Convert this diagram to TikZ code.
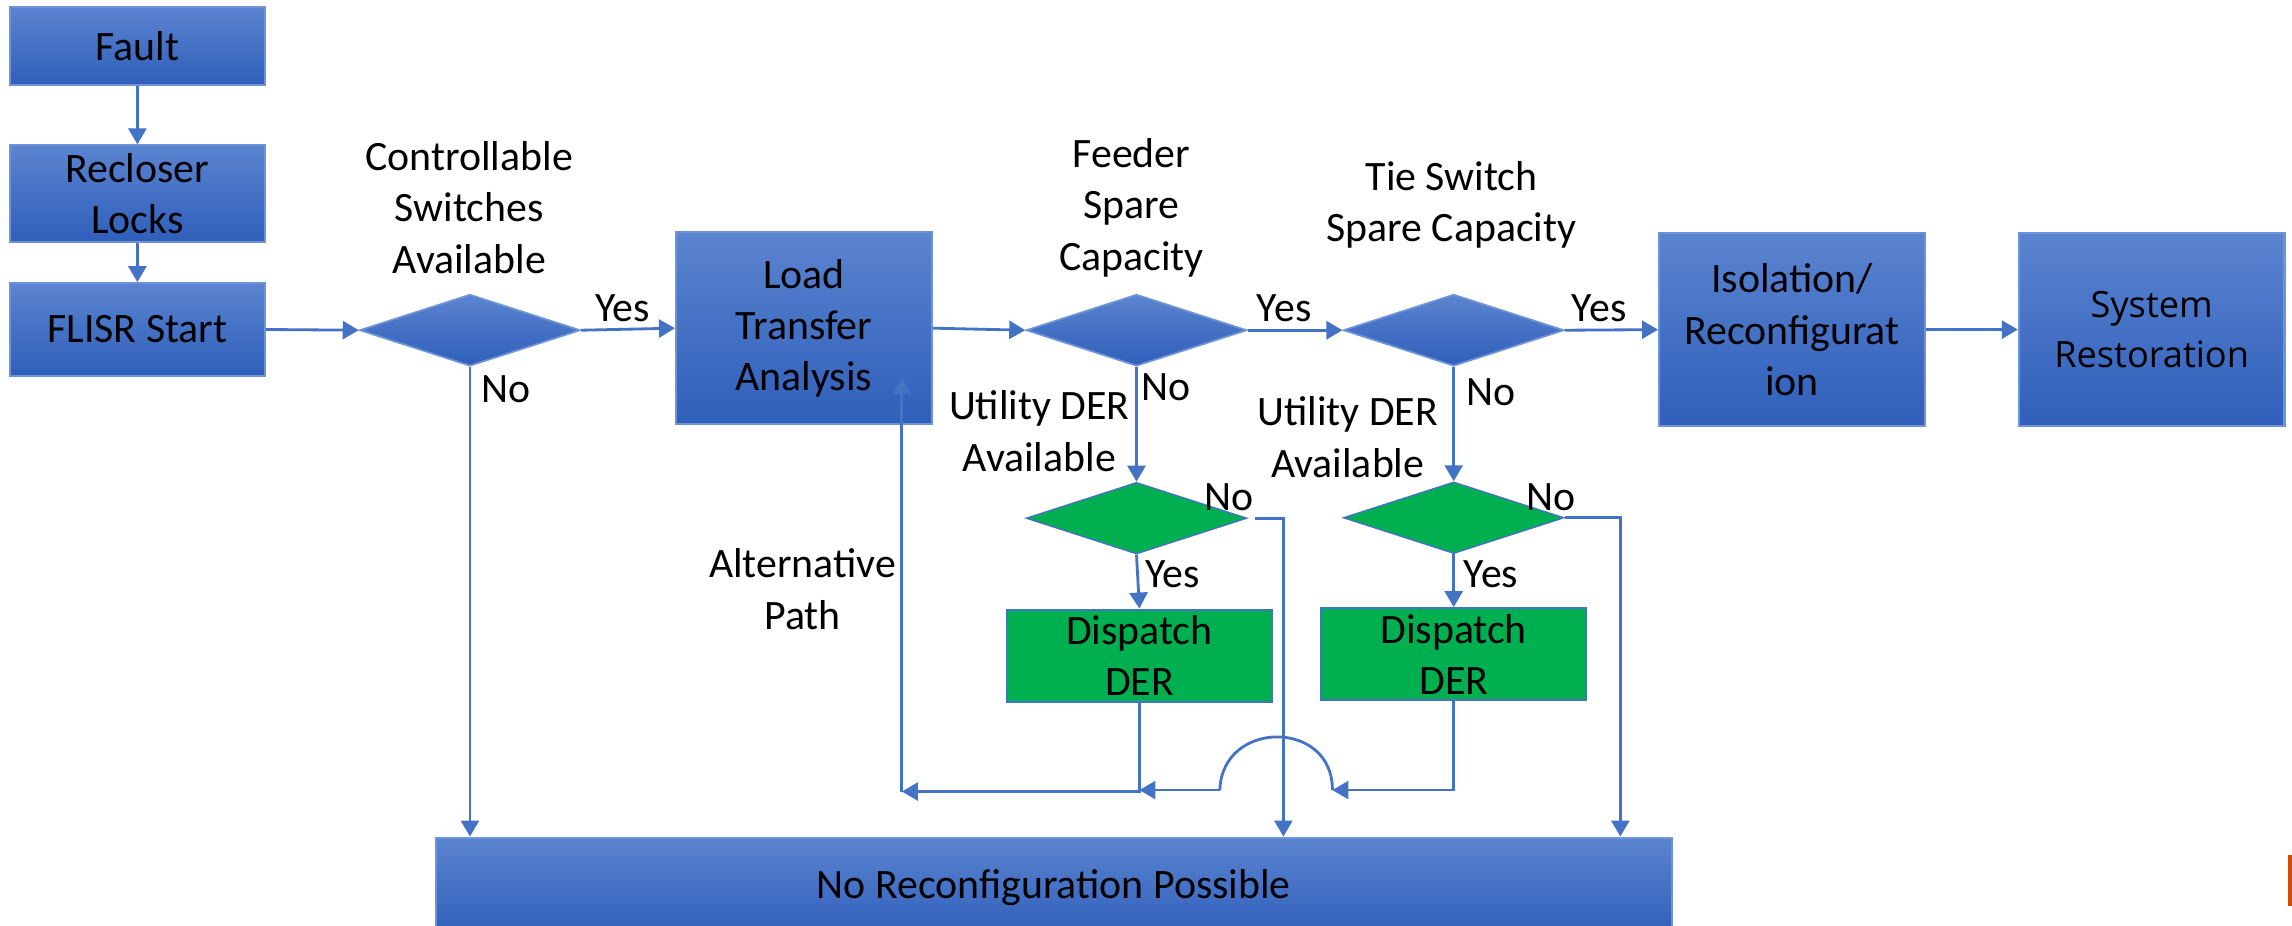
\documentclass[tikz,border=0pt]{standalone}
\usepackage{fontspec}
\setmainfont{Carlito}
\newfontfamily\sysfont{Open Sans}
\usetikzlibrary{shapes.geometric,arrows.meta}
\definecolor{boxtop}{HTML}{5B84D0}
\definecolor{boxbot}{HTML}{2F5FBA}
\definecolor{boxline}{HTML}{6D93D8}
\definecolor{linec}{HTML}{4472C4}
\definecolor{greenf}{HTML}{00B050}
\definecolor{orangem}{HTML}{D24A0A}
\newcommand\ftxt{\fontsize{11.9}{14.6}\selectfont}
\tikzset{
 bluebox/.style={rectangle, top color=boxtop, bottom color=boxbot, draw=boxline, line width=0.6pt, inner sep=0pt, align=center, font=\ftxt},
 greenbox/.style={rectangle, fill=greenf, draw=linec, line width=0.6pt, inner sep=0pt, align=center, font=\ftxt},
 bluedia/.style={diamond, top color=boxtop, bottom color=boxbot, draw=boxline, line width=0.5pt, inner sep=0pt, minimum width=2.207cm, minimum height=0.716cm},
 greendia/.style={diamond, fill=greenf, draw=linec, line width=0.4pt, inner sep=0pt, minimum width=2.207cm, minimum height=0.716cm},
 conn/.style={draw=linec, line width=0.8pt, -{Triangle[length=0.16cm,width=0.18cm]}},
 plainline/.style={draw=linec, line width=0.8pt},
 lbl/.style={inner sep=0pt, align=center, font=\ftxt},
}
\begin{document}
\begin{tikzpicture}[x=0.014617cm, y=-0.014617cm]
\useasboundingbox (0,0) rectangle (1568,633);
\clip (0,0) rectangle (1568,633);

% boxes
\node[bluebox, minimum width=2.554cm, minimum height=0.775cm] (fault) at (94,31.5) {Fault};
\node[bluebox, minimum width=2.554cm, minimum height=0.965cm] (recl) at (94,132.5) {Recloser\\Locks};
\node[bluebox, minimum width=2.554cm, minimum height=0.925cm] (flisr) at (94,225.4) {FLISR Start};
\node[bluedia] (d1) at (321.5,225.9) {};
\node[bluebox, minimum width=2.558cm, minimum height=1.921cm] (lta) at (550,224.5) {Load\\Transfer\\Analysis};
\node[bluedia] (d2) at (777.5,225.9) {};
\node[bluedia] (d3) at (994.5,225.9) {};
\node[bluebox, minimum width=2.66cm, minimum height=1.93cm] (iso) at (1226,225.5) {Isolation/\\Reconfigurat\\ion};
\node[bluebox, minimum width=2.655cm, minimum height=1.93cm, font=\sysfont\fontsize{10.3}{14.2}\selectfont] (sys) at (1472,225.5) {System\\Restoration};
\node[greendia] (g1) at (777.5,354.5) {};
\node[greendia] (g2) at (994.5,354.2) {};
\node[greenbox, minimum width=2.646cm, minimum height=0.92cm] (dsp1) at (779.5,448.5) {Dispatch\\DER};
\node[greenbox, minimum width=2.646cm, minimum height=0.92cm] (dsp2) at (994.5,447.5) {Dispatch\\DER};
\node[bluebox, minimum width=12.366cm, minimum height=0.994cm] (nrp) at (721,607) {No Reconfiguration Possible};

% labels
\node[lbl] (tctrl) at (321,142) {Controllable\\Switches\\Available};
\node[lbl] (tfeed) at (774,142) {Feeder\\Spare\\Capacity};
\node[lbl] (ttie) at (993,140) {Tie Switch\\Spare Capacity};
\node[lbl] (y1) at (426,211) {Yes};
\node[lbl] (y2) at (878.5,211) {Yes};
\node[lbl] (y3) at (1094,211) {Yes};
\node[lbl] (n1) at (346,266) {No};
\node[lbl] (n2) at (798,265) {No};
\node[lbl] (n3) at (1020,268) {No};
\node[lbl] (u1) at (711,295) {Utility DER\\Available};
\node[lbl] (u2) at (922,299) {Utility DER\\Available};
\node[lbl] (n4) at (841,340) {No};
\node[lbl] (n5) at (1061,340) {No};
\node[lbl] (y4) at (802,393) {Yes};
\node[lbl] (y5) at (1020,393) {Yes};
\node[lbl] (talt) at (549,403) {Alternative\\Path};

% main flow
\draw[conn] (fault.south) -- (recl.north);
\draw[conn] (recl.south) -- (flisr.north);
\draw[conn] (flisr.east) -- (d1.west);
\draw[conn] (d1.east) -- (lta.west);
\draw[conn] (lta.east) -- (d2.west);
\draw[conn] (d2.east) -- (d3.west);
\draw[conn] (d3.east) -- (iso.west);
\draw[conn] (iso.east) -- (sys.west);

% No branches
\draw[conn] (d1.south) -- (d1.south |- nrp.north);
\draw[conn] (d2.south) -- (g1.north);
\draw[conn] (d3.south) -- (g2.north);
\draw[conn] (g1.south) -- (dsp1.north);
\draw[conn] (g2.south) -- (dsp2.north);

\coordinate (g1s) at (858.5,354.5);
\coordinate (g1x) at (878,354.5);
\draw[conn] (g1s) -- (g1x) -- (g1x |- nrp.north);
\coordinate (g2x) at (1108.5,354.2);
\draw[conn] (g2.east) -- (g2x) -- (g2x |- nrp.north);

% return paths
\coordinate (alt) at (617,541.5);
\coordinate (altend) at (617,258.5);
\draw[conn] (dsp1.south) |- (alt);
\draw[conn] (alt) -- (altend);

\coordinate (jr) at (911.5,540.5);
\coordinate (jl) at (834.5,540.5);
\draw[conn] (dsp2.south) |- (jr);
\draw[plainline] (jr) .. controls (912,492) and (836,492) .. (jl);
\draw[conn] (jl) -- (dsp1.south |- jl);

% edge mark
\fill[orangem] (1565,585) rectangle (1568,620);
\end{tikzpicture}
\end{document}
